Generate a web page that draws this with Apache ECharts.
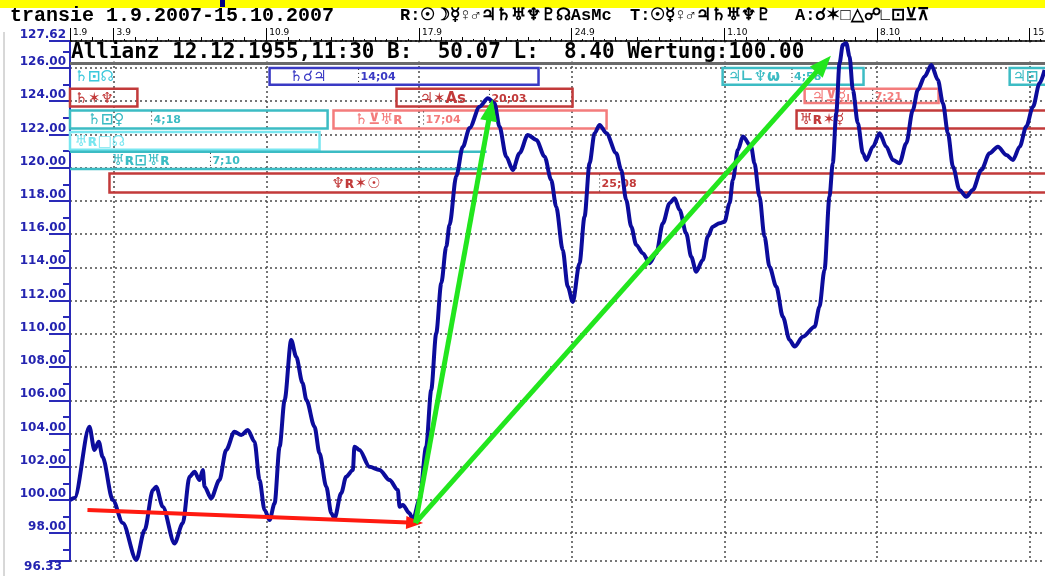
<!DOCTYPE html>
<html><head><meta charset="utf-8">
<script src="https://cdn.jsdelivr.net/npm/echarts@6/dist/echarts.min.js"></script>
<style>html,body{margin:0;padding:0;background:#fff}#c{width:1045px;height:576px}</style>
</head><body><div id="c"></div>
<script>
// ---- data: day offset from 1.9.2007 and price ----
const days = [0,0.21,0.89,1.12,1.32,1.49,1.96,2.42,3.04,3.42,
3.80,3.95,4.25,4.79,5.17,5.48,5.71,5.94,6.09,6.17,
6.47,6.85,7.16,7.54,7.85,8.15,8.46,8.69,8.92,9.15,
9.38,9.61,9.84,10.14,10.37,10.66,10.84,11.21,11.44,11.75,
11.98,12.13,12.43,12.66,12.97,13.04,13.27,13.73,14.19,14.65,
15.03,15.11,15.26,15.57,15.72,16.02,16.33,16.56,16.79,17.02,
17.25,17.40,17.71,18.01,18.32,18.78,19.16,19.46,19.69,20.00,
20.30,20.61,20.99,21.38,21.76,22.06,22.29,22.59,22.82,23.05,
23.36,23.59,23.82,24.05,24.28,24.59,25.04,25.27,25.50,25.73,
25.96,26.26,26.57,26.88,27.18,27.49,27.72,27.95,28.25,28.48,
28.71,29.01,29.24,29.47,29.78,30.01,30.24,30.39,30.62,30.85,
31.23,31.38,31.61,31.84,32.07,32.38,32.68,32.99,33.22,33.60,
34.14,34.36,34.59,34.82,34.97,35.13,35.28,35.43,35.59,35.74,
35.89,36.12,36.35,36.51,36.81,37.12,37.42,37.73,38.03,38.34,
38.64,38.87,39.18,39.49,39.79,40.02,40.25,40.48,40.78,41.09,
41.39,41.78,42.16,42.54,42.93,43.23,43.54,43.84,44.15,44.45,
44.68];
const prices = [100.00,100.12,104.41,103.01,103.51,102.61,100.00,98.62,96.40,98.19,
100.60,100.80,99.60,97.39,98.60,101.40,101.70,101.20,101.81,100.80,
100.10,101.20,103.01,104.11,103.91,104.21,103.51,101.20,99.40,98.80,
99.80,103.21,106.02,109.63,108.62,107.04,106.02,104.41,102.81,100.80,
99.20,98.90,100.40,101.40,101.81,103.21,103.01,102.00,101.81,101.20,
100.60,99.60,99.70,99.20,98.80,100.00,103.21,106.62,110.03,113.04,
115.25,116.55,119.50,121.26,122.39,123.67,124.18,123.88,122.47,120.66,
119.86,120.87,121.97,121.67,120.66,119.26,117.65,115.05,112.84,111.92,
114.25,117.05,120.26,122.07,122.57,122.07,120.87,119.86,118.06,116.45,
115.35,114.85,114.25,114.85,116.65,117.86,118.16,117.45,116.05,114.64,
113.74,114.44,115.85,116.45,116.65,116.75,117.86,119.26,121.07,121.87,
121.26,120.26,118.26,115.85,114.04,112.84,111.03,109.63,109.23,109.83,
110.43,111.63,113.84,118.26,120.26,123.27,126.28,127.39,127.49,126.68,
124.68,122.67,120.87,120.46,121.26,122.07,121.26,120.46,120.27,121.47,
123.47,124.68,125.48,126.18,125.28,123.88,122.07,120.06,118.66,118.25,
118.66,119.86,120.87,121.26,120.76,120.46,121.26,122.47,123.67,125.08,
125.88];

// ---- axes ----
const dateTickDays = [0,2,9,16,23,30,37,44];
const dateTickLabels = ['1.9','3.9','10.9','17.9','24.9','1.10','8.10','15.10'];
const priceMin = 96.33, priceMax = 127.62;
const priceLabelValues = [98,100,102,104,106,108,110,112,114,116,118,120,122,124,126,127.62];
const priceTickValues = [96.33,98,100,102,104,106,108,110,112,114,116,118,120,122,124,126,127.62];
const priceMinorTicks = [97,99,101,103,105,107,109,111,113,115,117,119,121,123,125,127];

// ---- transit boxes ----
const boxStart  = [0,     9.15,  29.92, 43.08, 0,     14.97, 33.68, 0,     12.08, 33.31, 0,     0,     1.81];
const boxEnd    = [3.2,   21.48, 36.38, 45.5,  3.09,  23.04, 39.82, 11.81, 24.60, 45.5,  11.44, 19.10, 45.5];
const boxTop    = [126.0, 126.0, 126.0, 126.0, 124.74,124.74,124.74,123.44,123.44,123.44,122.15,120.95,119.65];
const boxBottom = [124.98,124.98,124.98,124.98,123.68,123.68,123.89,122.36,122.36,122.36,121.07,119.92,118.51];
const boxLabel  = ['♄⊡☊','♄☌♃','♃∟♆ω','♃⊡','♄✶♆','♃✶As','♃⊻☿ₗ','♄⊡♀','♄⊻♅ʀ','♅ʀ✶☿','♅ʀ□☊','♅ʀ⊡♅ʀ','♆ʀ✶☉'];
const boxLabelAt= [0.21,  10.06, 30.15, 43.21, 0.21,  16.02, 34.0,  0.80,  13.04, 33.45, 0.21,  1.90,  11.99];
const boxTime   = ['',    '14;04','4;58','',   '',    '20;03','7;21','4;18','17;04','',    '',    '7;10','25;08'];
const boxTimeAt = [null,  13.23, 33.10, null,  null,  19.23, 36.80, 3.74,  16.21, null,  null,  6.44,  24.28];
const boxColor  = ['#3cc8dc','#3a3ac4','#3cbcc4','#3cbcc4','#c23a3a','#c23a3a','#f47c7c','#3cbcc4','#f47c7c','#c23a3a','#78e6f0','#3cbcc4','#c23a3a'];
const boxKind   = ['none','box','box','box','box','box','box','box','box','box','box','lines','box'];

// ---- trend arrows ----
const arrowFrom  = [[0.80, 99.40],[15.84, 98.62],[15.84, 98.62]];
const arrowTo    = [[15.80, 98.63],[19.28, 123.47],[34.55, 126.24]];
const arrowColor = ['#ff1a10','#22e61e','#22e61e'];
const arrowWidth = [4, 5, 5];
const arrowHead  = [[13,17],[17,22],[17,22]];

const chart = echarts.init(document.getElementById('c'), null, {renderer:'canvas'});

function renderBox(params, api) {
  const i = params.dataIndex;
  const p1 = api.coord([boxStart[i], boxTop[i]]);
  const p2 = api.coord([boxEnd[i], boxBottom[i]]);
  const col = boxColor[i];
  const children = [];
  if (boxKind[i] === 'box') {
    children.push({type:'rect', shape:{x:p1[0], y:p1[1], width:p2[0]-p1[0], height:p2[1]-p1[1]},
      style:{fill:'none', stroke:col, lineWidth:2.5}});
  } else if (boxKind[i] === 'lines') {
    children.push({type:'line', shape:{x1:p1[0], y1:p1[1], x2:p2[0], y2:p1[1]}, style:{stroke:col, lineWidth:2.5}});
    children.push({type:'line', shape:{x1:p1[0], y1:p2[1], x2:p2[0], y2:p2[1]}, style:{stroke:col, lineWidth:2.5}});
  }
  const mid = (p1[1] + p2[1]) / 2;
  const lx = api.coord([boxLabelAt[i], boxTop[i]])[0];
  children.push({type:'text', x:lx, y:mid+1, style:{text:boxLabel[i], fill:col,
    font:'bold 15px "DejaVu Sans"', align:'left', verticalAlign:'middle', textAlign:'left', textVerticalAlign:'middle'}});
  if (boxTime[i]) {
    const tx = api.coord([boxTimeAt[i], boxTop[i]])[0];
    children.push({type:'line', shape:{x1:tx, y1:p1[1]+1, x2:tx, y2:p2[1]-1},
      style:{stroke:'#222', lineWidth:1, lineDash:[1,3]}});
    children.push({type:'text', x:tx+2, y:mid+1, style:{text:boxTime[i], fill:col,
      font:'bold 11px "DejaVu Sans"', align:'left', verticalAlign:'middle', textAlign:'left', textVerticalAlign:'middle'}});
  }
  return {type:'group', children};
}

const gridLine = {show:true, lineStyle:{color:'#4a4a4a', type:[2,3], width:1.5}};
const axisBlue = '#2a2ab8';

const option = {
  animation:false,
  backgroundColor:'#ffffff',
  grid:{left:70, right:0, top:41, bottom:15, containLabel:false, outerBoundsMode:'none'},
  xAxis:[
    {type:'value', position:'top', min:0, max:44.7,
     axisLine:{show:true, onZero:false, lineStyle:{color:'#000', width:1.5}},
     axisTick:{show:true, customValues:dateTickDays, length:13, lineStyle:{color:'#000', width:1}},
     axisLabel:{show:true, customValues:dateTickDays,
       formatter:(v)=>{const k=dateTickDays.indexOf(v); return k>=0?dateTickLabels[k]:'';},
       color:'#000', fontSize:9, fontFamily:'DejaVu Sans', align:'left', verticalAlign:'bottom', margin:4, padding:[0,0,0,3]},
     splitLine:gridLine},
    {type:'value', position:'top', min:0, max:44.7, interval:1,
     axisLine:{show:false}, axisLabel:{show:false}, splitLine:{show:false},
     axisTick:{show:true, length:4, lineStyle:{color:'#000', width:1}}},
    {type:'value', position:'top', min:0, max:44.7, interval:0.5,
     axisLine:{show:false}, axisLabel:{show:false}, splitLine:{show:false},
     axisTick:{show:true, length:2, lineStyle:{color:'#000', width:1}}}
  ],
  yAxis:[
    {type:'value', position:'left', min:priceMin, max:priceMax,
     axisLine:{show:true, onZero:false, lineStyle:{color:axisBlue, width:2}},
     axisTick:{show:true, customValues:priceTickValues, length:21, lineStyle:{color:axisBlue, width:2}},
     axisLabel:{show:true, customValues:priceLabelValues, formatter:(v)=>Number(v).toFixed(2),
       color:'#2424b0', fontWeight:'bold', fontSize:12, fontFamily:'DejaVu Sans', align:'right', verticalAlign:'bottom', margin:4},
     splitLine:gridLine},
    {type:'value', position:'left', min:priceMin, max:priceMax,
     axisLine:{show:false},
     axisTick:{show:true, customValues:priceMinorTicks, length:7, lineStyle:{color:axisBlue, width:2}},
     axisLabel:{show:true, customValues:[priceMin], formatter:(v)=>Number(v).toFixed(2),
       color:'#2424b0', fontWeight:'bold', fontSize:12, fontFamily:'DejaVu Sans', align:'right', verticalAlign:'top', margin:8},
     splitLine:{show:false}}
  ],
  graphic:[
    {type:'rect', z:1, shape:{x:0, y:0, width:1045, height:8}, style:{fill:'#ffff00'}},
    {type:'rect', z:1, shape:{x:220, y:0, width:5, height:7}, style:{fill:'#000080'}},
    {type:'line', z:1, shape:{x1:4, y1:32, x2:4, y2:576}, style:{stroke:'#b0b0b0', lineWidth:1}},
    {type:'text', z:1, x:10, y:16, style:{text:'transie 1.9.2007-15.10.2007', font:'bold 20px "Liberation Mono"', fill:'#000', verticalAlign:'middle', textVerticalAlign:'middle'}},
    {type:'text', z:1, x:400, y:16, style:{text:'R:☉☽☿♀♂♃♄♅♆♇☊AsMc', font:'bold 17px "Liberation Mono"', fill:'#000', verticalAlign:'middle', textVerticalAlign:'middle'}},
    {type:'text', z:1, x:630, y:16, style:{text:'T:☉☿♀♂♃♄♅♆♇', font:'bold 17px "Liberation Mono"', fill:'#000', verticalAlign:'middle', textVerticalAlign:'middle'}},
    {type:'text', z:1, x:795, y:16, style:{text:'A:☌✶□△☍∟⊡⊻⊼', font:'bold 17px "Liberation Mono"', fill:'#000', verticalAlign:'middle', textVerticalAlign:'middle'}},
    {type:'rect', z:1, shape:{x:72, y:42.5, width:973, height:19}, style:{fill:'#ffffff'}},
    {type:'text', z:1, x:71, y:52.5, style:{text:'Allianz 12.12.1955,11:30 B:  50.07 L:  8.40 Wertung:100.00', font:'bold 21px "DejaVu Sans Mono"', fill:'#000', verticalAlign:'middle', textVerticalAlign:'middle'}},
    {type:'rect', z:1, shape:{x:70, y:62, width:975, height:3}, style:{fill:'#6a6a6a'}}
  ],
  series:[
    {type:'custom', name:'transits', coordinateSystem:'cartesian2d', xAxisIndex:0, yAxisIndex:0, z:2, silent:true,
     renderItem:renderBox,
     encode:{x:[0,1], y:[2,3]},
     data:boxStart.map((s,i)=>[s, boxEnd[i], boxTop[i], boxBottom[i]])},
    {type:'line', name:'Allianz', xAxisIndex:0, yAxisIndex:0, z:3, silent:true,
     showSymbol:false, symbol:'none', smooth:0.3, smoothMonotone:'x',
     lineStyle:{color:'#0c0c9c', width:4},
     data:days.map((d,i)=>[d, prices[i]])},
    {type:'line', name:'trend', xAxisIndex:0, yAxisIndex:0, z:4, silent:true,
     showSymbol:false, symbol:'none', lineStyle:{opacity:0, width:0},
     data:arrowFrom.concat(arrowTo),
     markLine:{silent:true, animation:false, symbol:['none','triangle'], symbolSize:[14,20],
       label:{show:false}, emphasis:{disabled:true},
       data:arrowFrom.map((f,i)=>[
         {coord:f, lineStyle:{color:arrowColor[i], width:arrowWidth[i], type:'solid'}, itemStyle:{color:arrowColor[i]}},
         {coord:arrowTo[i], symbolSize:arrowHead[i]}
       ])}}
  ]
};
chart.setOption(option);
</script></body></html>
